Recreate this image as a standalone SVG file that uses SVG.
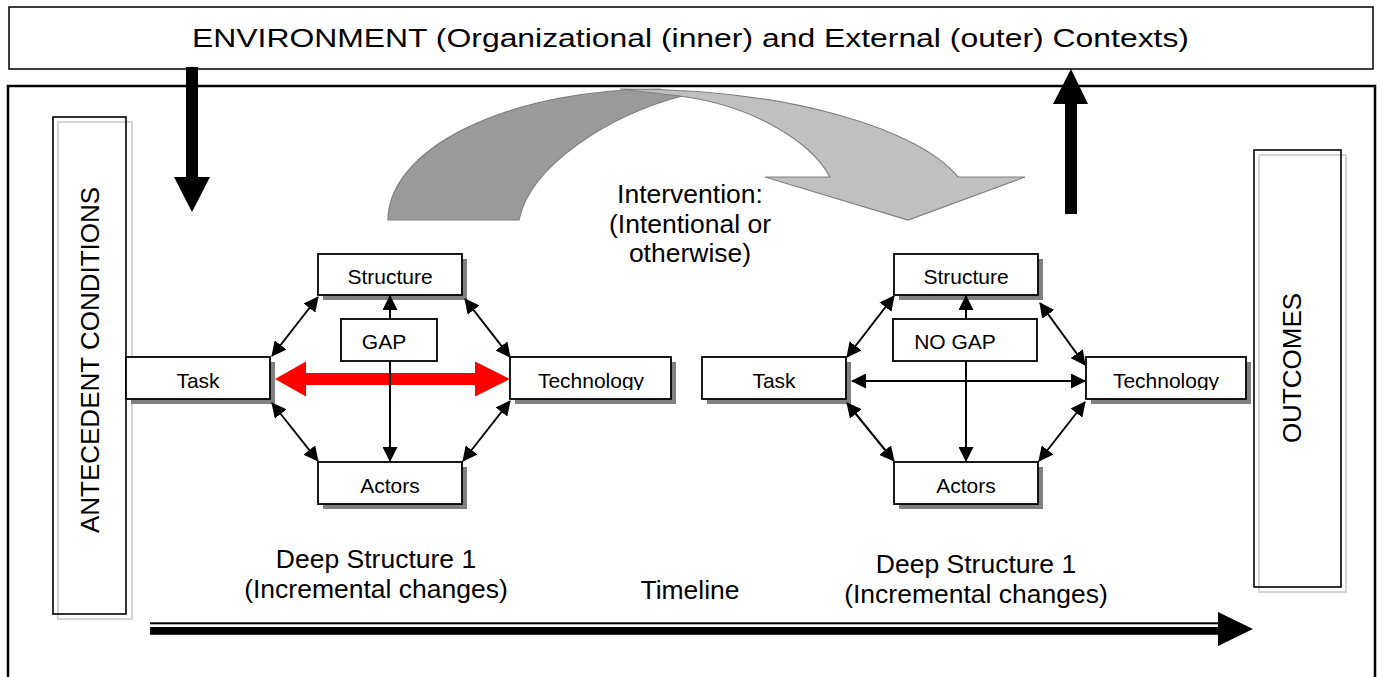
<svg xmlns="http://www.w3.org/2000/svg" width="1382" height="677" viewBox="0 0 1382 677">
<style>
text{font-family:"Liberation Sans",Arial,Helvetica,sans-serif;fill:#000}
.big{font-size:26.5px;text-anchor:middle}
.lbl{font-size:21px;text-anchor:middle}
.box{fill:#fff;stroke:#000;stroke-width:1.8}
.shadow{fill:#808080}
.con{stroke:#000;stroke-width:2;fill:none}
.dbl{marker-start:url(#ah);marker-end:url(#ah)}
.end{marker-end:url(#ah)}
.frame{fill:none;stroke:#000;stroke-width:1.6}
.ghost{fill:none;stroke:#d4d4d4;stroke-width:2}
.blk{fill:#000}
</style>
<defs>
<marker id="ah" markerUnits="userSpaceOnUse" markerWidth="15" markerHeight="15" refX="14" refY="7.5" orient="auto-start-reverse" viewBox="0 0 15 15"><path d="M0,0 L15,7.5 L0,15 Z" fill="#000"/></marker>
<clipPath id="clipTechL"><rect x="510" y="357" width="161" height="33"/></clipPath>
<clipPath id="clipTechR"><rect x="1086" y="357" width="161" height="33"/></clipPath>
</defs>

<g id="environment">
<rect x="9" y="7" width="1364" height="62" fill="#fff" stroke="#000" stroke-width="1.5"/>
<text x="192" y="47" font-size="26" textLength="997" lengthAdjust="spacingAndGlyphs">ENVIRONMENT (Organizational (inner) and External (outer) Contexts)</text>
</g>

<g id="main-frame">
<rect x="8" y="86" width="1367" height="610" fill="none" stroke="#000" stroke-width="2.5"/>
</g>

<g id="antecedent-conditions">
<rect class="ghost" x="58" y="122" width="74" height="497"/>
<rect class="frame" x="53" y="117" width="73" height="497"/>
<text transform="translate(99,360) rotate(-90)" font-size="26" text-anchor="middle">ANTECEDENT CONDITIONS</text>
</g>

<g id="outcomes">
<rect class="ghost" x="1259" y="155" width="87" height="437"/>
<rect class="frame" x="1254" y="150" width="87" height="437"/>
<text transform="translate(1301,368) rotate(-90)" font-size="26" text-anchor="middle">OUTCOMES</text>
</g>

<g id="intervention-arrow">
<path d="M388,220 A272,131 0 0 1 660,89 L682,96 C610,115 530,165 519,220 Z" fill="#9a9a9a" stroke="#7f7f7f" stroke-width="1.2"/>
<path d="M620,89 C790,88 920,130 958,177 L1025,177 L908,220 L765,177 L830,177 C810,140 750,105 680,96 Z" fill="#c0c0c0" stroke="#7f7f7f" stroke-width="1.2"/>
</g>

<g id="intervention-label">
<text class="big" x="690" y="203">Intervention:</text>
<text class="big" x="690" y="233">(Intentional or</text>
<text class="big" x="690" y="262">otherwise)</text>
</g>

<g id="env-in-arrow">
<polygon class="blk" points="186,67 198,67 198,177 210,177 192,212 174,177 186,177"/>
</g>
<g id="env-out-arrow">
<polygon class="blk" points="1065,214 1077,214 1077,104 1088,104 1071,69 1053,104 1065,104"/>
</g>

<!-- Deep structure 1 (left) -->
<g id="ds1-structure">
<rect class="shadow" x="323" y="259" width="144" height="41"/>
<rect class="box" x="318" y="254" width="144" height="41"/>
<text class="lbl" x="390" y="284">Structure</text>
</g>
<g id="ds1-gap">
<rect class="box" x="341" y="319" width="96" height="42"/>
<text class="lbl" x="384" y="349">GAP</text>
</g>
<g id="ds1-task">
<rect class="shadow" x="131" y="362" width="144" height="42"/>
<rect class="box" x="126" y="357" width="144" height="42"/>
<text class="lbl" x="198" y="388">Task</text>
</g>
<g id="ds1-technology">
<rect class="shadow" x="515" y="362" width="161" height="42"/>
<rect class="box" x="510" y="357" width="161" height="42"/>
<text class="lbl" x="591" y="388" clip-path="url(#clipTechL)">Technology</text>
</g>
<g id="ds1-actors">
<rect class="shadow" x="323" y="467" width="144" height="42"/>
<rect class="box" x="318" y="462" width="144" height="42"/>
<text class="lbl" x="390" y="493">Actors</text>
</g>

<!-- Deep structure (right) -->
<g id="ds2-structure">
<rect class="shadow" x="899" y="259" width="144" height="41"/>
<rect class="box" x="894" y="254" width="144" height="41"/>
<text class="lbl" x="966" y="284">Structure</text>
</g>
<g id="ds2-nogap">
<rect class="box" x="893" y="319" width="144" height="42"/>
<text class="lbl" x="955" y="349">NO GAP</text>
</g>
<g id="ds2-task">
<rect class="shadow" x="707" y="362" width="144" height="42"/>
<rect class="box" x="702" y="357" width="144" height="42"/>
<text class="lbl" x="774" y="388">Task</text>
</g>
<g id="ds2-technology">
<rect class="shadow" x="1091" y="362" width="160" height="42"/>
<rect class="box" x="1086" y="357" width="160" height="42"/>
<text class="lbl" x="1166" y="388" clip-path="url(#clipTechR)">Technology</text>
</g>
<g id="ds2-actors">
<rect class="shadow" x="899" y="467" width="144" height="42"/>
<rect class="box" x="894" y="462" width="144" height="42"/>
<text class="lbl" x="966" y="493">Actors</text>
</g>

<g id="connectors">
<polygon fill="#ff0000" points="275,379 306,361.5 306,373 475,373 475,361.5 510,379 475,396.5 475,385 306,385 306,396.5"/>
<line class="con end" x1="390" y1="319" x2="390" y2="296"/>
<line class="con end" x1="390" y1="361" x2="390" y2="461"/>
<line class="con dbl" x1="272" y1="356" x2="318" y2="297"/>
<line class="con dbl" x1="465" y1="299" x2="510" y2="357"/>
<line class="con dbl" x1="272" y1="403" x2="318" y2="461"/>
<line class="con dbl" x1="510" y1="401" x2="463" y2="461"/>

<line class="con end" x1="966" y1="319" x2="966" y2="296"/>
<line class="con end" x1="966" y1="361" x2="966" y2="461"/>
<line class="con dbl" x1="852" y1="381" x2="1085" y2="381"/>
<line class="con dbl" x1="847" y1="357" x2="894" y2="296"/>
<line class="con dbl" x1="1040" y1="303" x2="1085" y2="365"/>
<line class="con dbl" x1="847" y1="403" x2="894" y2="461"/>
<line class="con dbl" x1="1085" y1="402" x2="1039" y2="461"/>
</g>

<g id="ds1-caption">
<text class="big" x="376" y="568">Deep Structure 1</text>
<text class="big" x="376" y="598">(Incremental changes)</text>
</g>
<g id="timeline-label">
<text class="big" x="690" y="599">Timeline</text>
</g>
<g id="ds2-caption">
<text class="big" x="976" y="573">Deep Structure 1</text>
<text class="big" x="976" y="603">(Incremental changes)</text>
</g>

<g id="timeline">
<rect class="blk" x="150" y="622.3" width="1070" height="2"/>
<rect class="blk" x="150" y="627" width="1070" height="7.8"/>
<polygon class="blk" points="1218,612 1253,629 1218,646"/>
</g>
</svg>
